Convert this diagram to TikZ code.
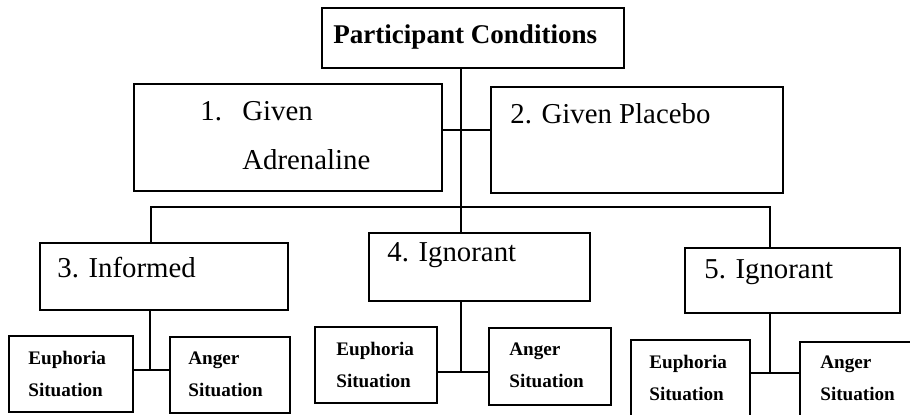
\documentclass[tikz,border=0pt]{standalone}
\usepackage{fontspec}
\setmainfont{Liberation Serif}
\newcommand{\pxu}{0.02cm}
\tikzset{
  box/.style 2 args={draw, rectangle, line width=0.9pt, inner sep=0pt, outer sep=0pt,
    minimum width=#1*\pxu, minimum height=#2*\pxu},
  headtxt/.style={font=\bfseries\fontsize{15.4}{18}\selectfont, inner sep=0pt, anchor=base west},
  bigtxt/.style={font=\fontsize{16.4}{19}\selectfont, inner sep=0pt, anchor=base west},
  smalltxt/.style={font=\bfseries\fontsize{10.9}{13}\selectfont, inner sep=0pt, anchor=base west},
  link/.style={line width=0.9pt}
}

\begin{document}
\begin{tikzpicture}[x=0.02cm, y=-0.02cm]
                \useasboundingbox (0,0) rectangle (910,414);
                \clip (0,0) rectangle (910,414);

                % boxes
                \node[box={302}{60}] (pc) at (473,38) {};
                \node[box={308}{107}] (adrenaline) at (288,137.5) {};
                \node[box={292}{106}] (placebo) at (637,140) {};
                \node[box={248}{67}] (informed) at (164,276.5) {};
                \node[box={221}{68}] (ignorantA) at (479.5,267) {};
                \node[box={215}{65}] (ignorantB) at (792.5,280.5) {};
                \node[box={124}{76}] (euphA) at (71,374) {};
                \node[box={120}{76}] (angerA) at (230,375) {};
                \node[box={122}{76}] (euphB) at (376,365) {};
                \node[box={122}{77}] (angerB) at (550,366.5) {};
                \node[box={119}{76}] (euphC) at (690.5,378) {};
                \node[box={122}{76}] (angerC) at (861,380) {};

                % texts
                \node[headtxt] (pc-t) at (333,43) {Participant Conditions};
                \node[bigtxt] (adrenaline-n) at (200,120) {1.};
                \node[bigtxt] (adrenaline-t) at (242,120) {Given};
                \node[bigtxt] (adrenaline-u) at (242,169) {Adrenaline};
                \node[bigtxt] (placebo-t) at (510,123) {2. Given Placebo};
                \node[bigtxt] (informed-t) at (57,277) {3. Informed};
                \node[bigtxt] (ignorantA-t) at (387,261) {4. Ignorant};
                \node[bigtxt] (ignorantB-t) at (704,278) {5. Ignorant};
                \node[smalltxt] (euphA-t) at (28,364) {Euphoria};
                \node[smalltxt] (euphA-u) at (28,396) {Situation};
                \node[smalltxt] (angerA-t) at (188,364) {Anger};
                \node[smalltxt] (angerA-u) at (188,396) {Situation};
                \node[smalltxt] (euphB-t) at (336,355) {Euphoria};
                \node[smalltxt] (euphB-u) at (336,387) {Situation};
                \node[smalltxt] (angerB-t) at (509,355) {Anger};
                \node[smalltxt] (angerB-u) at (509,387) {Situation};
                \node[smalltxt] (euphC-t) at (649,368) {Euphoria};
                \node[smalltxt] (euphC-u) at (649,400) {Situation};
                \node[smalltxt] (angerC-t) at (820,368) {Anger};
                \node[smalltxt] (angerC-u) at (820,400) {Situation};

                % connectors
                \coordinate (split) at (461,207);
                \coordinate (mid) at (461,130);
                \coordinate (barL) at (151,207);
                \coordinate (barR) at (770,207);
                \coordinate (jA) at (150,370);
                \coordinate (jB) at (461,372);
                \coordinate (jC) at (770,373);

                \draw[link] (pc.south -| split) -- (ignorantA.north -| split);
                \draw[link] (adrenaline.east |- mid) -- (placebo.west |- mid);
                \draw[link] (informed.north -| barL) -- (barL) -- (barR) -- (ignorantB.north -| barR);

                \draw[link] (informed.south -| jA) -- (jA);
                \draw[link] (euphA.east |- jA) -- (angerA.west |- jA);
                \draw[link] (ignorantA.south -| jB) -- (jB);
                \draw[link] (euphB.east |- jB) -- (angerB.west |- jB);
                \draw[link] (ignorantB.south -| jC) -- (jC);
                \draw[link] (euphC.east |- jC) -- (angerC.west |- jC);
\end{tikzpicture}
\end{document}
